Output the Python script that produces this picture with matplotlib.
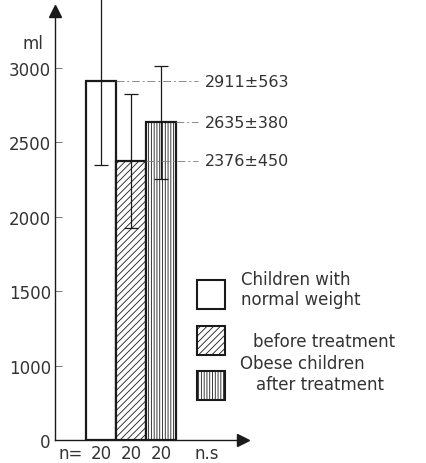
import numpy as np
import matplotlib.pyplot as plt
from matplotlib.patches import Rectangle

# mean +- SD of the measured volume (ml), n per group
groups = ["normal", "before", "after"]
means = [2911, 2376, 2635]
sds = [563, 450, 380]
n_values = ["20", "20", "20"]
value_labels = ["2911±563", "2376±450", "2635±380"]
hatches = ["", "/////", "||||||"]
y_ticks = [0, 1000, 1500, 2000, 2500, 3000]

plt.rcParams["font.family"] = ["DejaVu Sans"]
plt.rcParams["hatch.linewidth"] = 0.6
ink = "#1a1a1a"
soft = "#333333"

W, H = 427, 464
fig = plt.figure(figsize=(W / 100, H / 100), dpi=100)


def fx(px):
    return px / W


def fy(py):
    return 1 - py / H


# axes: y spine at x=55px, x axis at y=441px, arrows at 243px / 12px
ax = fig.add_axes([fx(55), fy(441), fx(243) - fx(55), fy(12) - fy(441)])


# y axis is compressed below 1000 (0-1000 takes the same room as 500 above it)
def fwd(y):
    y = np.asarray(y, dtype=float)
    return np.where(y < 1000, y / 2, y - 500)


def inv(t):
    t = np.asarray(t, dtype=float)
    return np.where(t < 500, t * 2, t + 500)


ax.set_yscale("function", functions=(fwd, inv))

x = np.arange(len(means))
bars = ax.bar(x, means, width=1.0, color="white", edgecolor=ink, linewidth=1.6,
              hatch=hatches, zorder=2)
eb = ax.errorbar(x, means, yerr=sds, fmt="none", ecolor=ink, elinewidth=0.9,
                 capsize=5, capthick=0.9, zorder=3)
for art in eb.lines[1] + eb.lines[2]:
    art.set_clip_on(False)

ax.set_xlim(-1.533, 4.733)
ax.set_ylim(0, 3383)

# leader lines from the bar tops to the value labels
label_x = 3.47
line_starts = [0.5, 1.5, 2.5]
for xs, m, lab in zip(line_starts, means, value_labels):
    ax.plot([xs, label_x - 0.25], [m, m], color="#8a8a8a", lw=0.7,
            dashes=(8, 3, 2, 3), zorder=2.5, clip_on=False)
    ax.text(label_x, m, lab, ha="left", va="center", fontsize=11.5,
            color=soft, clip_on=False)

ax.set_yticks(y_ticks)
ax.set_yticklabels([str(v) for v in y_ticks])
ax.yaxis.set_minor_locator(plt.NullLocator())
ax.tick_params(axis="y", direction="in", length=5, width=0.7, color="#777777",
               labelsize=12, pad=3, labelcolor=soft)

ax.set_xticks([-1.0, 0, 1, 2, 3.53])
ax.set_xticklabels(["n="] + n_values + ["n.s"])
ax.tick_params(axis="x", length=0, labelsize=12, pad=3, labelcolor=soft)

for side in ["top", "right"]:
    ax.spines[side].set_visible(False)
for side in ["left", "bottom"]:
    ax.spines[side].set_linewidth(1.0)
    ax.spines[side].set_color(ink)

# arrow heads on both axes
ax.plot(1, 0, marker=">", color=ink, markersize=8, transform=ax.transAxes,
        clip_on=False)
ax.plot(0, 1, marker="^", color=ink, markersize=8, transform=ax.transAxes,
        clip_on=False)

fig.text(fx(33), fy(44), "ml", ha="center", va="center", fontsize=12, color=soft)

# legend boxes
box_tops = [281, 327, 372]
for top, h in zip(box_tops, hatches):
    fig.add_artist(Rectangle((fx(197), fy(top + 29)), fx(28), fy(0) - fy(29),
                             transform=fig.transFigure, facecolor="white",
                             edgecolor=ink, linewidth=1.5, hatch=h))

legend_texts = [
    (241, 280, "Children with"),
    (241, 300, "normal weight"),
    (253, 342, "before treatment"),
    (240, 364, "Obese children"),
    (256, 385, "after treatment"),
]
for px, py, s in legend_texts:
    fig.text(fx(px), fy(py), s, ha="left", va="center", fontsize=12,
             color=soft)

fig.savefig("out.png", dpi=100, facecolor="white")
